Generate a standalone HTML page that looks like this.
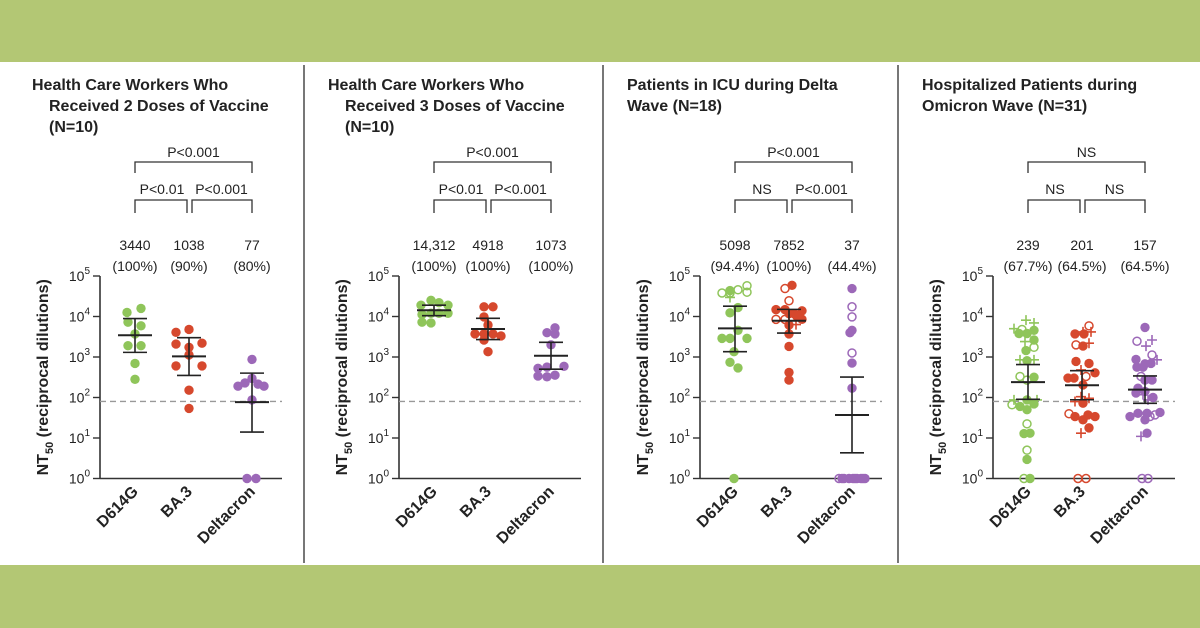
<!DOCTYPE html>
<html><head><meta charset="utf-8"><style>
body{margin:0;width:1200px;height:628px;overflow:hidden;background:#fff;font-family:"Liberation Sans",sans-serif}
svg{display:block}
</style></head><body>
<svg id="c" width="1200" height="628" viewBox="0 0 1200 628">
<rect x="0" y="0" width="1200" height="62" fill="#b3c774"/>
<rect x="0" y="565" width="1200" height="63" fill="#b3c774"/>
<rect x="303" y="65" width="2" height="498" fill="#777"/>
<rect x="602" y="65" width="2" height="498" fill="#777"/>
<rect x="897" y="65" width="2" height="498" fill="#777"/>
</svg>
<script>
const categories=["D614G","BA.3","Deltacron"];
const colors=["#8fc55a","#d6482d","#9c68b8"];
const titles=[["Health Care Workers Who","  Received 2 Doses of Vaccine","  (N=10)"],["Health Care Workers Who","  Received 3 Doses of Vaccine","  (N=10)"],["Patients in ICU during Delta","Wave (N=18)"],["Hospitalized Patients during","Omicron Wave (N=31)"]];
const meanLabels=[["3440","1038","77"],["14,312","4918","1073"],["5098","7852","37"],["239","201","157"]];
const pctLabels=[["(100%)","(90%)","(80%)"],["(100%)","(100%)","(100%)"],["(94.4%)","(100%)","(44.4%)"],["(67.7%)","(64.5%)","(64.5%)"]];
const pTop=["P<0.001","P<0.001","P<0.001","NS"];
const pLeft=["P<0.01","P<0.01","NS","NS"];
const pRight=["P<0.001","P<0.001","P<0.001","NS"];
const means=[[3440,1038,77],[14312,4918,1073],[5098,7852,37],[239,201,157]];
const upper=[[8900,3000,400],[19000,9000,2300],[18000,15000,320],[650,460,340]];
const lower=[[1300,350,14],[10500,2700,500],[1350,3900,4.3],[90,88,72]];
const threshold=80;
const yTicks=[0,1,2,3,4,5];
// points: [log10 NT50, jitter, type] type f=filled o=open p=plus
const pts=[
[[[4.10,-8,'f'],[4.20,6,'f'],[3.86,-7,'f'],[3.77,6,'f'],[3.57,0,'f'],[3.28,-7,'f'],[3.28,6,'f'],[2.84,0,'f'],[2.45,0,'f']],
 [[3.61,-13,'f'],[3.68,0,'f'],[3.32,-13,'f'],[3.34,13,'f'],[3.24,0,'f'],[3.05,0,'f'],[2.78,-13,'f'],[2.78,13,'f'],[2.18,0,'f'],[1.73,0,'f']],
 [[2.94,0,'f'],[2.28,-14,'f'],[2.36,-7,'f'],[2.47,0,'f'],[2.33,6,'f'],[2.28,12,'f'],[1.94,0,'f'],[0,-5,'f'],[0,4,'f']]],
[[[4.40,-3,'f'],[4.28,-13,'f'],[4.34,5,'f'],[4.28,14,'f'],[4.05,-12,'f'],[4.08,14,'f'],[4.08,-3,'f'],[4.08,5,'f'],[3.84,-3,'f'],[3.86,-12,'f']],
 [[4.24,-4,'f'],[4.24,5,'f'],[3.99,-4,'f'],[3.79,0,'f'],[3.57,-13,'f'],[3.57,-4,'f'],[3.57,5,'f'],[3.52,13,'f'],[3.42,-4,'f'],[3.13,0,'f']],
 [[3.72,4,'f'],[3.60,-4,'f'],[3.57,4,'f'],[3.30,0,'f'],[2.72,-13,'f'],[2.75,-4,'f'],[2.77,13,'f'],[2.53,-13,'f'],[2.55,4,'f'],[2.51,-4,'f']]],
[[[4.58,-13,'o'],[4.66,3,'o'],[4.76,12,'o'],[4.60,12,'o'],[4.47,-5,'p'],[4.64,-5,'f'],[4.22,3,'f'],[4.09,-5,'f'],[3.46,-13,'f'],[3.46,-5,'f'],[3.66,3,'f'],[3.46,12,'f'],[3.13,-1,'f'],[2.87,-5,'f'],[2.73,3,'f'],[0,-1,'f'],[4.58,-5,'o']],
 [[4.77,3,'f'],[4.17,-13,'f'],[4.17,-4,'f'],[4.14,13,'f'],[4.07,0,'f'],[4.07,5,'f'],[3.93,-13,'o'],[3.93,13,'f'],[3.79,0,'f'],[3.57,0,'f'],[3.26,0,'f'],[2.62,0,'f'],[2.43,0,'f'],[4.69,-4,'o'],[4.39,0,'o'],[3.93,-4,'o'],[3.80,7,'p'],[4.0,8,'f']],
 [[4.69,0,'f'],[3.66,0,'f'],[3.60,-2,'f'],[2.85,0,'f'],[2.23,0,'f'],[4.24,0,'o'],[3.99,0,'o'],[3.10,0,'o'],[0,-13,'o'],[0,-8,'o'],[0,-3,'f'],[0,1,'f'],[0,5,'f'],[0,9,'f'],[0,13,'f'],[0,-10,'f'],[0,11,'f'],[0,3,'f']]],
[[[3.91,-2,'p'],[3.84,6,'p'],[3.70,-14,'p'],[3.68,-6,'o'],[3.58,-9,'f'],[3.58,-1,'f'],[3.66,6,'f'],[3.38,-3,'p'],[3.42,6,'f'],[3.24,6,'o'],[3.16,-2,'f'],[2.93,-8,'p'],[2.91,-1,'f'],[2.93,6,'p'],[2.52,-8,'o'],[2.43,-1,'o'],[2.50,6,'f'],[1.94,-14,'p'],[1.94,9,'p'],[1.94,-1,'f'],[1.82,-16,'o'],[1.78,-8,'f'],[1.84,6,'f'],[1.70,-1,'f'],[1.35,-1,'o'],[1.11,-4,'f'],[1.12,2,'f'],[0.70,-1,'o'],[0.47,-1,'f'],[0,-4,'o'],[0,2,'f']],
 [[3.77,7,'o'],[3.57,-7,'f'],[3.57,2,'f'],[3.62,1,'p'],[3.62,9,'p'],[3.30,-6,'o'],[3.27,1,'f'],[3.34,7,'p'],[2.89,-6,'f'],[2.84,7,'f'],[2.68,-1,'p'],[2.48,-8,'f'],[2.52,4,'o'],[2.61,13,'f'],[2.48,-14,'f'],[2.31,1,'f'],[2.02,-1,'p'],[1.98,7,'p'],[1.90,-7,'p'],[1.86,1,'f'],[1.60,-13,'o'],[1.53,-7,'f'],[1.57,6,'f'],[1.53,13,'f'],[1.45,1,'f'],[1.25,7,'f'],[1.12,-1,'p'],[0,-4,'o'],[0,4,'o']],
 [[3.73,0,'f'],[3.39,-8,'o'],[3.42,7,'p'],[3.27,1,'p'],[3.05,7,'o'],[2.93,12,'p'],[2.94,-9,'f'],[2.83,0,'f'],[2.84,6,'f'],[2.75,-8,'f'],[2.75,-2,'f'],[2.52,-4,'o'],[2.43,0,'f'],[2.43,7,'f'],[2.23,-7,'f'],[2.15,0,'f'],[2.11,-9,'f'],[2.07,-2,'p'],[1.94,3,'p'],[2.00,8,'f'],[1.61,-7,'f'],[1.61,2,'f'],[1.57,10,'o'],[1.53,-15,'f'],[1.63,15,'f'],[1.53,5,'o'],[1.45,0,'f'],[1.12,2,'f'],[1.04,-4,'p'],[0,-3,'o'],[0,3,'o']]]
];
const axisX=[100,399,700,993];
const titleX=[32,328,627,922];
const NS="http://www.w3.org/2000/svg";
const svg=document.getElementById('c');
function mk(tag,attrs,parent,name){const e=document.createElementNS(NS,tag);for(const k in attrs)e.setAttribute(k,attrs[k]);


(parent||svg).appendChild(e);return e;}
const Y0=478.5,DEC=40.5;
function yScale(lg){return Y0-lg*DEC;}
const catOff=[35,89,152];
for(let p=0;p<4;p++){
 const ax=axisX[p];
 const g=mk('g',{},svg,'panel-'+(p+1));
 const xS=i=>ax+catOff[i];
 // title
 titles[p].forEach((t,i)=>{const tx=mk('text',{x:titleX[p]+(t.startsWith('  ')?17:0),y:90+i*21,'font-size':16,'font-weight':'bold',fill:'#222'},g,'panel-title-line');tx.textContent=t.trim();});
 // axes
 mk('line',{x1:ax,y1:yScale(5),x2:ax,y2:Y0,stroke:'#333','stroke-width':1.6},g,'y-axis');
 mk('line',{x1:ax,y1:Y0,x2:ax+182,y2:Y0,stroke:'#333','stroke-width':1.6},g,'x-axis');
 yTicks.forEach(t=>{const y=yScale(t);
  mk('line',{x1:ax-7,y1:y,x2:ax,y2:y,stroke:'#333','stroke-width':1.4},g,'y-tick');
  const tx=mk('text',{x:ax-10,y:y+5,'font-size':14,'text-anchor':'end',fill:'#222'},g,'y-tick-label');
  tx.innerHTML='10<tspan dy="-7" font-size="10">'+t+'</tspan>';});
 const yt=mk('text',{transform:`translate(${ax-52},${yScale(2.5)}) rotate(-90)`,'font-size':16,'font-weight':'bold','text-anchor':'middle',fill:'#222'},g,'y-axis-title');
 yt.innerHTML='NT<tspan dy="5" font-size="11">50</tspan><tspan dy="-5"> (reciprocal dilutions)</tspan>';
 // threshold
 mk('line',{x1:ax,y1:yScale(Math.log10(threshold)),x2:ax+182,y2:yScale(Math.log10(threshold)),stroke:'#999','stroke-width':1.3,'stroke-dasharray':'6,4'},g,'detection-threshold');
 // brackets
 const bp=(x1,x2,yt,yb,name)=>mk('path',{d:`M${x1},${yb}V${yt}H${x2}V${yb}`,fill:'none',stroke:'#333','stroke-width':1.3},g,name);
 bp(xS(0),xS(2),162,173,'bracket-top');
 bp(xS(0),xS(1)-2,200,213,'bracket-left');
 bp(xS(1)+3,xS(2),200,213,'bracket-right');
 const tt=(x,y,s,name)=>{const e=mk('text',{x:x,y:y,'font-size':14,'text-anchor':'middle',fill:'#222'},g,name);e.textContent=s;};
 tt((xS(0)+xS(2))/2,157,pTop[p],'p-value-top');
 tt((xS(0)+xS(1))/2,194,pLeft[p],'p-value-left');
 tt((xS(1)+xS(2))/2+1,194,pRight[p],'p-value-right');
 for(let c=0;c<3;c++){
  const cx=xS(c);
  tt(cx,250,meanLabels[p][c],'mean-label');
  tt(cx,271,pctLabels[p][c],'percent-label');
  const xl=mk('text',{transform:`translate(${cx+4},${Y0+14}) rotate(-45)`,'font-size':16,'font-weight':'bold','text-anchor':'end',fill:'#222'},g,'x-category-label');
  xl.textContent=categories[c];
  const col=colors[c];
  pts[p][c].forEach(d=>{const x=cx+d[1],y=yScale(d[0]);
   if(d[2]==='f')mk('circle',{cx:x,cy:y,r:4.7,fill:col},g,'data-point');
   else if(d[2]==='o')mk('circle',{cx:x,cy:y,r:4,fill:'none',stroke:col,'stroke-width':1.5},g,'data-point-open');
   else mk('path',{d:`M${x-5},${y}H${x+5}M${x},${y-5}V${y+5}`,stroke:col,'stroke-width':1.6},g,'data-point-plus');});
  // error bars
  const ym=yScale(Math.log10(means[p][c])),yu=yScale(Math.log10(upper[p][c])),yl=yScale(Math.log10(lower[p][c]));
  mk('line',{x1:cx,y1:yu,x2:cx,y2:yl,stroke:'#222','stroke-width':1.6},g,'error-bar');
  mk('line',{x1:cx-12,y1:yu,x2:cx+12,y2:yu,stroke:'#222','stroke-width':1.6},g,'error-cap-upper');
  mk('line',{x1:cx-12,y1:yl,x2:cx+12,y2:yl,stroke:'#222','stroke-width':1.6},g,'error-cap-lower');
  mk('line',{x1:cx-17,y1:ym,x2:cx+17,y2:ym,stroke:'#222','stroke-width':2},g,'mean-line');
 }
}
</script>
</body></html>
